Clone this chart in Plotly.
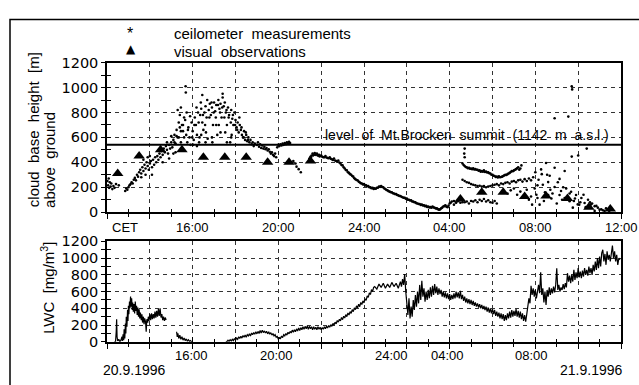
import plotly.graph_objects as go

# ---------------- data (hours: 12 = 12:00 on 20.9.1996, 36 = 12:00 on 21.9.1996) ----------------
level_m = 540  # level of Mt.Brocken summit above ground

# ceilometer: rising part
ceil_t_a = [12.02, 12.05, 12.08, 12.10, 12.13, 12.17, 12.20, 12.25, 12.30, 12.35, 12.42, 12.55,
            12.85, 12.90, 12.95, 13.00, 13.05, 13.10, 13.15, 13.20, 13.25, 13.30, 13.35, 13.40,
            13.45, 13.50, 13.55, 13.60, 13.65, 13.70, 13.75, 13.80, 13.85, 13.90, 13.95, 14.00,
            14.05, 14.10, 14.15, 14.20, 14.25, 14.30, 13.70, 13.90, 14.10, 13.80, 13.60, 14.00]
ceil_h_a = [250, 215, 270, 195, 240, 205, 230, 185, 210, 195, 225, 215,
            170, 190, 180, 200, 215, 225, 240, 230, 260, 275, 255, 300,
            285, 320, 340, 310, 360, 330, 380, 350, 400, 370, 340, 390,
            410, 360, 420, 380, 440, 400, 420, 440, 300, 300, 280, 450]
ceil_t_b = [14.35, 14.40, 14.45, 14.50, 14.55, 14.60, 14.65, 14.70, 14.75, 14.80,
            14.85, 14.90, 14.95, 15.00, 15.05, 15.10, 15.15, 15.20, 15.25, 15.30,
            15.35, 15.40, 15.45, 15.50, 15.55, 15.60, 15.30, 15.40, 15.20, 15.10,
            14.90, 15.45, 15.60, 15.67, 15.68, 14.60, 14.80, 15.00]
ceil_h_b = [450, 420, 470, 440, 490, 460, 510, 480, 530, 500,
            470, 540, 510, 560, 520, 580, 620, 550, 660, 600,
            720, 780, 840, 700, 650, 760, 820, 680, 480, 470,
            430, 560, 600, 1010, 960, 400, 560, 610]
# ceilometer: afternoon maximum
ceil_t_c = [15.65, 15.70, 15.75, 15.80, 15.85, 15.90, 15.95, 16.00, 16.05, 16.10,
            16.15, 16.20, 16.25, 16.30, 16.35, 16.40, 16.45, 16.50, 16.55, 16.60,
            16.65, 16.70, 16.75, 16.80, 16.85, 16.90, 16.95, 17.00, 17.05, 17.10,
            17.15, 17.20, 17.25, 17.30, 17.35, 17.40, 17.45, 17.50, 17.55, 17.60,
            17.65, 17.70, 17.75, 17.80, 17.85, 17.90, 17.95, 18.00, 18.05, 18.10,
            18.15, 18.20, 18.25, 18.30, 18.35, 18.40, 18.45, 18.50, 18.55, 18.60,
            18.65, 18.70, 18.75, 18.80, 18.85, 18.90,
            16.20, 16.60, 16.90, 17.30, 17.60, 16.40, 17.10, 17.80, 16.45, 17.40]
ceil_h_c = [740, 620, 560, 680, 600, 540, 720, 650, 580, 760,
            700, 620, 800, 560, 780, 830, 720, 660, 800, 850,
            760, 590, 820, 870, 780, 840, 700, 880, 810, 860,
            620, 900, 830, 870, 760, 920, 850, 880, 800, 700,
            840, 780, 560, 820, 750, 700, 800, 740, 680, 720,
            640, 700, 660, 620, 600, 650, 580, 620, 570, 600,
            560, 580, 545, 560, 530, 550,
            530, 560, 600, 640, 560, 620, 700, 600, 940, 950]
ceil_t_c2 = [15.72, 15.78, 15.88, 15.98, 16.08, 16.18, 16.28, 16.38, 16.48, 16.58,
             16.68, 16.78, 16.88, 16.98, 17.08, 17.18, 17.28, 17.38, 17.48, 17.58,
             17.68, 17.78, 17.88, 17.98, 18.08, 18.18, 18.28, 18.38, 18.48, 18.58,
             15.15, 15.25, 15.35, 15.45, 15.55,
             16.02, 16.32, 16.62, 16.92, 17.22, 17.52, 17.82]
ceil_h_c2 = [800, 660, 770, 600, 700, 840, 720, 880, 780, 700,
             900, 760, 880, 800, 760, 860, 800, 840, 760, 820,
             760, 720, 780, 700, 660, 760, 680, 600, 640, 580,
             560, 610, 600, 650, 700,
             540, 600, 640, 560, 700, 640, 620]
# ceilometer: evening
ceil_t_d = [19.00, 19.05, 19.10, 19.15, 19.20, 19.25, 19.30, 19.35, 19.40, 19.45,
            19.50, 19.55, 19.60, 19.65, 19.70, 19.75, 19.80, 19.85, 19.90, 19.95,
            20.00, 20.05, 20.10, 20.15, 20.20, 20.25, 20.30, 20.35, 20.40, 20.45,
            20.50, 20.55, 20.70, 20.80, 20.85, 20.95, 21.05]
ceil_h_d = [540, 560, 525, 545, 515, 535, 510, 525, 505, 515,
            495, 505, 485, 470, 480, 460, 450, 470, 440, 520,
            540, 530, 545, 535, 550, 540, 555, 545, 560, 550,
            565, 555, 410, 390, 365, 345, 320]
# ceilometer: night descent
ceil_t_e = [21.45, 21.50, 21.55, 21.60, 21.65, 21.70, 21.75, 21.80, 21.85, 21.90,
            21.95, 22.00, 22.10, 22.20, 22.30, 22.40, 22.50, 22.60, 22.70, 22.80,
            22.90, 23.00, 23.10, 23.20, 23.30, 23.40, 23.50, 23.60, 23.70, 23.80,
            23.90, 24.00, 24.10, 24.20, 24.30, 24.40, 24.50, 24.60, 24.70, 24.80,
            24.90, 25.00, 25.10, 25.20, 25.30, 25.40, 25.50, 25.60, 25.70, 25.80,
            25.90, 26.00, 26.10, 26.20, 26.30, 26.40, 26.50, 26.60, 26.70, 26.80,
            26.90, 27.00, 27.10, 27.20, 27.30, 27.40, 27.50, 27.60, 27.70, 27.80,
            27.90, 28.00, 28.10, 28.20, 28.30, 28.40, 28.50, 28.60]
ceil_h_e = [430, 445, 455, 470, 460, 475, 465, 470, 455, 460,
            450, 455, 440, 450, 435, 440, 425, 430, 410, 415,
            390, 375, 350, 335, 315, 300, 285, 265, 255, 240,
            230, 225, 215, 210, 200, 195, 190, 195, 205, 210,
            200, 185, 175, 165, 160, 150, 145, 135, 130, 120,
            115, 110, 100, 95, 85, 80, 70, 65, 60, 55,
            50, 45, 40, 45, 35, 30, 20, 30, 45, 55,
            40, 70, 85, 90, 75, 90, 100, 80]
ceil_t_e2 = [21.52, 21.62, 21.72, 21.82, 21.92, 22.05, 22.15, 22.25, 22.35, 22.45,
             22.55, 22.65, 22.75, 22.85, 22.95, 23.05, 23.15, 23.25, 23.35, 23.45,
             23.55, 23.65, 23.75, 23.85, 23.95, 24.05, 24.15, 24.25, 24.35, 24.45,
             24.55, 24.65, 24.75, 24.85, 24.95, 25.05, 25.15, 25.25, 25.35, 25.45,
             25.55, 25.65, 25.75, 25.85, 25.95, 26.05, 26.15, 26.25, 26.35, 26.45,
             26.55, 26.65, 26.75, 26.85, 26.95, 27.05, 27.15, 27.25, 27.35, 27.45,
             27.55, 27.65, 27.75, 27.85, 27.95, 28.05]
ceil_h_e2 = [440, 455, 460, 458, 448, 445, 440, 438, 432, 428,
             418, 415, 405, 398, 378, 360, 338, 320, 305, 290,
             272, 258, 245, 232, 222, 215, 208, 200, 192, 186,
             188, 196, 203, 202, 190, 178, 168, 160, 152, 145,
             138, 130, 123, 115, 108, 100, 93, 86, 79, 72,
             65, 58, 54, 48, 42, 38, 36, 38, 30, 24,
             22, 36, 48, 44, 52, 76]
# ceilometer: morning layers
ceil_t_up = [28.60, 28.70, 28.80, 28.90, 29.00, 29.10, 29.20, 29.30, 29.40, 29.50,
             29.60, 29.70, 29.80, 29.90, 30.00, 30.10, 30.20, 30.30, 30.40, 30.50,
             30.60, 30.70, 30.80, 30.90, 31.00, 31.10, 31.20, 31.30, 31.35, 28.70, 28.70, 28.68,
             28.65, 28.75, 28.85, 28.95, 29.05, 29.15, 29.25, 29.35, 29.45, 29.55,
             29.65, 29.75, 29.85, 29.95, 30.05, 30.15, 30.25, 30.35, 30.45, 30.55,
             30.65, 30.75, 30.85, 30.95, 31.05, 31.15, 31.25]
ceil_h_up = [390, 370, 360, 355, 350, 352, 345, 340, 335, 330,
             335, 325, 320, 310, 300, 290, 285, 288, 282, 290,
             300, 305, 315, 330, 335, 345, 360, 350, 375, 510, 440, 470,
             378, 362, 352, 348, 345, 342, 340, 332, 325, 325,
             322, 318, 312, 300, 292, 282, 278, 280, 285, 295,
             298, 310, 322, 328, 340, 352, 340]
ceil_t_mid = [28.60, 28.70, 28.80, 28.90, 29.00, 29.10, 29.20, 29.30, 29.40, 29.50,
              29.60, 29.70, 29.80, 29.90, 30.00, 30.10, 30.20, 30.30, 30.40, 30.50,
              30.60, 30.70, 30.80, 30.90, 31.00, 31.10, 31.20, 31.30, 31.40, 31.50,
              31.60, 31.70, 31.80]
ceil_h_mid = [260, 250, 240, 235, 225, 220, 215, 210, 212, 205,
              210, 200, 205, 210, 215, 220, 225, 215, 230, 225,
              235, 240, 230, 245, 250, 240, 255, 260, 245, 265,
              250, 270, 255]
ceil_t_low = [28.20, 28.30, 28.40, 28.50, 28.60, 28.70, 28.80, 28.90, 29.00, 29.10,
              29.20, 29.30, 29.40, 29.50, 29.60, 29.70, 29.80, 29.90, 30.00, 30.10, 30.20]
ceil_h_low = [60, 80, 90, 75, 95, 80, 85, 70, 90, 85,
              95, 80, 100, 90, 105, 85, 95, 80, 75, 90, 70]
ceil_t_g = [30.70, 30.85, 31.00, 31.15, 31.30, 31.45, 31.60, 31.80, 31.97, 32.10,
            32.10, 32.27, 32.30, 32.50, 32.60, 32.60, 32.67, 32.90, 32.90, 33.13,
            33.13, 33.37, 33.44, 33.67, 33.90, 34.15, 34.30, 34.46, 34.60, 34.77,
            34.92, 35.08, 35.23, 33.37, 33.60, 33.98, 34.46, 34.77, 33.75, 33.70,
            33.72, 32.90, 33.54, 33.70, 34.00, 34.40, 32.20, 32.40, 32.80, 33.00,
            33.25, 33.50, 33.80, 34.05, 34.25, 34.55, 34.85, 35.00, 35.30, 35.45,
            31.90, 32.00, 32.35, 32.45, 32.70, 33.05, 33.30, 31.70, 32.15, 32.55,
            32.75, 33.20, 33.60, 33.85, 34.10, 34.35, 34.65, 35.15, 31.85, 32.05]
ceil_h_g = [150, 175, 190, 140, 165, 120, 180, 125, 190, 215,
            113, 343, 305, 395, 241, 138, 292, 356, 202, 267,
            138, 330, 190, 164, 138, 113, 74, 100, 62, 48,
            36, 23, 10, 113, 87, 62, 36, 10, 36, 1010,
            985, 754, 767, 446, 455, 510, 60, 90, 150, 70,
            100, 120, 90, 60, 140, 80, 50, 20, 30, 10,
            280, 320, 220, 160, 180, 240, 200, 100, 260, 300,
            110, 170, 150, 110, 80, 40, 70, 15, 60, 140]

# visual observations
vis_t = [12.5, 13.5, 14.5, 15.5, 16.5, 17.5, 18.5, 19.5, 20.5, 21.5,
         28.5, 29.5, 30.5, 31.5, 32.5, 33.5, 34.5, 35.5]
vis_h = [310, 450, 500, 500, 440, 440, 440, 400, 400, 410,
         105, 160, 160, 125, 130, 110, 40, 25]

# liquid water content [mg/m3]
lwc_t1 = [12.35, 12.40, 12.43, 12.45, 12.47, 12.50, 12.55, 12.60, 12.65, 12.70,
          12.72, 12.75, 12.78, 12.80, 12.83, 12.86, 12.88, 12.90, 12.93, 12.96,
          12.98, 13.00, 13.02, 13.05, 13.07, 13.10, 13.12, 13.15, 13.18, 13.20,
          13.23, 13.26, 13.29, 13.32, 13.35, 13.38, 13.41, 13.44, 13.47, 13.50,
          13.53, 13.56, 13.60, 13.63, 13.66, 13.70, 13.73, 13.76, 13.80, 13.83,
          13.86, 13.90, 13.93, 13.96, 14.00, 14.04, 14.08, 14.12, 14.16, 14.20,
          14.24, 14.28, 14.32, 14.36, 14.40, 14.44, 14.48, 14.52, 14.56, 14.60,
          14.64, 14.68, 14.72, 14.76]
lwc_v1 = [0, 5, 120, 270, 60, 10, 30, 0, 20, 60,
          10, 90, 20, 150, 40, 220, 100, 300, 180, 380,
          250, 430, 330, 480, 400, 540, 420, 520, 380, 470,
          360, 450, 340, 480, 370, 430, 320, 410, 300, 390,
          280, 350, 260, 330, 230, 300, 210, 280, 240, 120,
          270, 230, 300, 250, 330, 260, 340, 270, 330, 280,
          360, 290, 370, 300, 390, 310, 400, 290, 330, 260,
          300, 250, 290, 260]
lwc_t2 = [15.25, 15.28, 15.31, 15.35, 15.40, 15.45, 15.50, 15.55, 15.60, 15.65,
          15.70, 15.75, 15.80, 15.85, 15.90, 15.95, 16.00]
lwc_v2 = [120, 60, 100, 40, 80, 30, 60, 20, 45, 15,
          35, 10, 25, 5, 15, 0, 5]
lwc_t3 = [17.55, 17.60, 17.65, 17.70, 17.75, 17.80, 17.85, 17.90, 17.95, 18.00,
          18.05, 18.10, 18.15, 18.20, 18.25, 18.30, 18.35, 18.40, 18.45, 18.50,
          18.55, 18.60, 18.65, 18.70, 18.75, 18.80, 18.85, 18.90, 18.95, 19.00,
          19.05, 19.10, 19.15, 19.20, 19.25, 19.30, 19.35, 19.40, 19.45, 19.50,
          19.55, 19.60, 19.65, 19.70, 19.75, 19.80, 19.85, 19.90, 19.95, 20.00,
          20.05, 20.10, 20.15, 20.20, 20.25, 20.30, 20.35, 20.40, 20.45, 20.50,
          20.55, 20.60, 20.65, 20.70, 20.75, 20.80, 20.85, 20.90, 20.95, 21.00,
          21.05, 21.10, 21.15, 21.20, 21.25, 21.30, 21.35, 21.40, 21.45, 21.50,
          21.55, 21.60, 21.65, 21.70, 21.75, 21.80, 21.85, 21.90, 21.95, 22.00,
          22.05, 22.10, 22.15, 22.20, 22.25, 22.30, 22.35, 22.40, 22.45, 22.50,
          22.55, 22.60, 22.65, 22.70, 22.75, 22.80, 22.85, 22.90, 22.95, 23.00,
          23.05, 23.10, 23.15, 23.20, 23.25, 23.30, 23.35, 23.40, 23.45, 23.50,
          23.55, 23.60, 23.65, 23.70, 23.75, 23.80, 23.85, 23.90, 23.95, 24.00,
          24.05, 24.10, 24.15, 24.20, 24.25, 24.30, 24.35, 24.40, 24.45]
lwc_v3 = [5, 0, 20, 5, 25, 10, 30, 15, 40, 20,
          45, 30, 60, 40, 65, 45, 75, 55, 80, 55,
          85, 70, 95, 70, 105, 85, 110, 90, 120, 95,
          125, 100, 135, 105, 140, 110, 130, 105, 125, 95,
          120, 90, 110, 80, 100, 70, 85, 55, 65, 30,
          50, 40, 70, 50, 85, 70, 100, 80, 115, 95,
          125, 105, 140, 115, 145, 120, 155, 130, 165, 135,
          170, 145, 180, 150, 185, 155, 190, 150, 185, 155,
          180, 145, 180, 150, 175, 145, 180, 150, 175, 145,
          170, 150, 180, 155, 185, 165, 195, 175, 205, 185,
          220, 200, 235, 215, 255, 235, 270, 250, 290, 265,
          305, 285, 325, 300, 345, 320, 360, 340, 385, 360,
          405, 385, 430, 405, 450, 420, 470, 445, 490, 465,
          515, 495, 550, 530, 585, 565, 625, 600, 650]
lwc_t4 = [24.5, 24.6, 24.7, 24.8, 24.9, 25.0, 25.1, 25.2, 25.3, 25.4,
          25.5, 25.6, 25.7, 25.75, 25.8, 25.85, 25.9, 25.95, 26.0, 26.05,
          26.1, 26.15, 26.2, 26.25, 26.3, 26.35, 26.4, 26.45, 26.5, 26.55,
          26.6, 26.65, 26.7, 26.75, 26.8, 26.85, 26.9, 26.95, 27.0, 27.05,
          27.1, 27.15, 27.2, 27.25, 27.3, 27.35, 27.4, 27.45, 27.5, 27.55,
          27.6, 27.65, 27.7, 27.75, 27.8, 27.85, 27.9, 27.95, 28.0, 28.05,
          28.1, 28.15, 28.2, 28.25, 28.3, 28.35, 28.4, 28.45, 28.5, 28.55,
          28.6, 28.65, 28.7, 28.75, 28.8, 28.85, 28.9, 28.95, 29.0, 29.05,
          29.1, 29.15, 29.2, 29.25, 29.3, 29.35, 29.4, 29.45, 29.5, 29.55,
          29.6, 29.65, 29.7, 29.75, 29.8, 29.85, 29.9, 29.95, 30.0, 30.05]
lwc_v4 = [660, 630, 690, 650, 700, 640, 690, 650, 710, 660,
          700, 640, 720, 660, 750, 680, 810, 600, 420, 320,
          520, 280, 420, 300, 500, 380, 560, 420, 600, 460,
          680, 500, 730, 540, 640, 480, 600, 500, 620, 520,
          650, 540, 670, 560, 690, 580, 660, 560, 640, 570,
          620, 540, 600, 530, 590, 520, 580, 510, 570, 500,
          560, 510, 580, 520, 600, 530, 590, 520, 610, 510,
          560, 490, 540, 470, 520, 460, 510, 450, 500, 440,
          490, 430, 470, 420, 460, 410, 450, 400, 440, 390,
          430, 380, 420, 360, 410, 350, 400, 340, 390, 330]
lwc_t5 = [30.1, 30.15, 30.2, 30.25, 30.3, 30.35, 30.4, 30.45, 30.5, 30.55,
          30.6, 30.65, 30.7, 30.75, 30.8, 30.85, 30.9, 30.95, 31.0, 31.05,
          31.1, 31.15, 31.2, 31.25, 31.3, 31.35, 31.4, 31.45, 31.5, 31.55,
          31.6, 31.65, 31.7, 31.75, 31.8, 31.85, 31.9, 31.95, 32.0, 32.05,
          32.1, 32.15, 32.2, 32.25, 32.3, 32.35, 32.4, 32.45, 32.5, 32.55,
          32.6, 32.65, 32.7, 32.75, 32.8, 32.85, 32.9, 32.95, 33.0, 33.05,
          33.1, 33.15, 33.2, 33.25, 33.3, 33.35, 33.4, 33.45, 33.5, 33.55,
          33.6, 33.65, 33.7, 33.75, 33.8, 33.85, 33.9, 33.95, 34.0, 34.05,
          34.1, 34.15, 34.2, 34.25, 34.3, 34.35, 34.4, 34.45, 34.5, 34.55,
          34.6, 34.65, 34.7, 34.75, 34.8, 34.85, 34.9, 34.95, 35.0, 35.05,
          35.1, 35.15, 35.2, 35.25, 35.3, 35.35, 35.4, 35.45, 35.5, 35.55,
          35.6, 35.65, 35.7, 35.75, 35.8, 35.85, 35.9, 35.95]
lwc_v5 = [380, 310, 360, 300, 350, 280, 340, 270, 330, 250,
          320, 260, 340, 280, 360, 290, 380, 300, 370, 310,
          390, 300, 370, 290, 360, 270, 340, 250, 320, 240,
          330, 420, 520, 460, 670, 560, 640, 540, 620, 520,
          600, 680, 580, 830, 560, 640, 470, 600, 440, 620,
          540, 650, 560, 640, 580, 660, 590, 680, 880, 620,
          680, 600, 650, 620, 690, 630, 700, 650, 820, 720,
          790, 700, 800, 720, 860, 740, 830, 760, 880, 770,
          840, 760, 850, 780, 880, 800, 860, 790, 900, 820,
          880, 800, 920, 840, 960, 860, 1000, 880, 1020, 900,
          1060, 1100, 960, 1050, 920, 1080, 980, 1040, 960, 1100,
          1150, 1000, 1080, 960, 1040, 920, 1000, 980]

# axis labels
top_tick_hours = [12.84, 16, 20, 24, 28, 32, 36]
top_tick_text = ["CET", "16:00", "20:00", "24:00", "04:00", "08:00", "12:00"]
bottom_tick_hours = [15.96, 19.9, 25.3, 27.9, 31.84]
bottom_tick_text = ["16:00", "20:00", "24:00", "04:00", "08:00"]
date_hours = [13.24, 34.6]
date_text = ["20.9.1996", "21.9.1996"]

# ---------------- figure ----------------
W, H = 639, 385
def px(x):
    return x / W
def py(y):
    return 1 - y / H

ceil_t = (ceil_t_a + ceil_t_b + ceil_t_c + ceil_t_c2 + ceil_t_d + ceil_t_e + ceil_t_e2 +
          ceil_t_up + ceil_t_mid + ceil_t_low + ceil_t_g)
ceil_h = (ceil_h_a + ceil_h_b + ceil_h_c + ceil_h_c2 + ceil_h_d + ceil_h_e + ceil_h_e2 +
          ceil_h_up + ceil_h_mid + ceil_h_low + ceil_h_g)
lwc_t = lwc_t1 + [None] + lwc_t2 + [None] + lwc_t3 + lwc_t4 + lwc_t5
lwc_v = lwc_v1 + [None] + lwc_v2 + [None] + lwc_v3 + lwc_v4 + lwc_v5

FONT = "Liberation Sans"
fig = go.Figure()
fig.add_trace(go.Scatter(x=ceil_t, y=ceil_h, mode="markers",
                         marker=dict(size=2.6, color="black"), xaxis="x", yaxis="y",
                         hoverinfo="skip"))
fig.add_trace(go.Scatter(x=vis_t, y=vis_h, mode="markers",
                         marker=dict(symbol="triangle-up", size=10, color="black"),
                         xaxis="x", yaxis="y"))
fig.add_trace(go.Scatter(x=lwc_t, y=lwc_v, mode="lines", connectgaps=False,
                         line=dict(color="black", width=1.2), xaxis="x2", yaxis="y2"))
# empty traces that carry the inner halves of the crossing tick marks
fig.add_trace(go.Scatter(x=[None], y=[None], xaxis="x3", yaxis="y3", hoverinfo="skip"))
fig.add_trace(go.Scatter(x=[None], y=[None], xaxis="x4", yaxis="y4", hoverinfo="skip"))

xdom = [px(107), px(621)]
ydom_top = [py(213), py(57)]
ydom_bot = [py(348.3), py(243.5)]

def xmain(anchor):
    return dict(domain=xdom, range=[12, 36], anchor=anchor, showline=True, linecolor="black",
                linewidth=1.5, mirror=True, tickmode="linear", tick0=12, dtick=2,
                ticks="outside", ticklen=5, tickwidth=1.2, tickcolor="black",
                showticklabels=False, showgrid=True, gridcolor="#333", gridwidth=1,
                griddash="4px,4px", zeroline=False,
                minor=dict(tickmode="linear", tick0=12, dtick=1, ticks="outside", ticklen=3,
                           tickwidth=1.2, tickcolor="black", showgrid=False))

def xover(over, anchor):
    return dict(overlaying=over, anchor=anchor, range=[12, 36], showline=False,
                tickmode="linear", tick0=12, dtick=2, ticks="inside", ticklen=5,
                tickwidth=1.2, tickcolor="black", showticklabels=False, showgrid=False,
                zeroline=False,
                minor=dict(tickmode="linear", tick0=12, dtick=1, ticks="inside", ticklen=3,
                           tickwidth=1.2, tickcolor="black", showgrid=False))

def ymain(dom, anchor):
    return dict(domain=dom, range=[0, 1200], anchor=anchor, showline=True, linecolor="black",
                linewidth=1.5, mirror=True, tickmode="linear", tick0=0, dtick=200,
                ticks="outside", ticklen=4, tickwidth=1.2, tickcolor="black",
                tickfont=dict(family="DejaVu Sans", size=14.5, color="black"),
                showgrid=True, gridcolor="#333", gridwidth=1, griddash="4px,4px",
                zeroline=False,
                minor=dict(tickmode="linear", tick0=0, dtick=100, ticks="outside", ticklen=4,
                           tickwidth=1.2, tickcolor="black", showgrid=False))

def yover(over, anchor):
    return dict(overlaying=over, anchor=anchor, range=[0, 1200], showline=False,
                tickmode="linear", tick0=0, dtick=200, ticks="inside", ticklen=4,
                tickwidth=1.2, tickcolor="black", showticklabels=False, showgrid=False,
                zeroline=False,
                minor=dict(tickmode="linear", tick0=0, dtick=100, ticks="inside", ticklen=4,
                           tickwidth=1.2, tickcolor="black", showgrid=False))

annotations = []
def ann(text, x, y, size, xref="paper", angle=0, xanchor="center", family=FONT):
    annotations.append(dict(text=text, x=x, y=y, xref=xref, yref="paper", showarrow=False,
                            xanchor=xanchor, yanchor="middle", textangle=angle,
                            font=dict(family=family, size=size, color="black")))

sp = " \u00a0"
# y axis titles
ann("cloud" + sp + "base" + sp + "height" + sp + "[m]", px(33), py(127.5), 15, angle=-90)
ann("above" + sp + "ground", px(50), py(158.5), 15, angle=-90)
ann("LWC" + sp + "[mg/m<sup>3</sup>]", px(48), py(292), 15, angle=-90)
# legend
ann("*", px(130), py(27), 16)
ann("\u25b2", px(131), py(43), 12, family="DejaVu Sans")
ann("ceilometer" + sp + "measurements", px(172), py(27), 15, xanchor="left")
ann("visual" + sp + "observations", px(172), py(45), 15, xanchor="left")
# summit level label
ann(sp.join(["level", "of", "Mt.Brocken", "summit", "(1142", "m", "a.s.l.)"]),
    px(467), py(132), 14)
# time labels
for h, t in zip(top_tick_hours, top_tick_text):
    ann(t, h, py(229), 13, xref="x")
for h, t in zip(bottom_tick_hours, bottom_tick_text):
    ann(t, h, py(363), 13, xref="x2")
for h, t in zip(date_hours, date_text):
    ann(t, h, py(378), 14, xref="x2")

shapes = [
    dict(type="line", xref="x domain", yref="y", x0=0, x1=1, y0=level_m, y1=level_m,
         line=dict(color="black", width=2)),
    dict(type="rect", xref="paper", yref="paper", x0=px(10), x1=1.05, y0=-0.05, y1=py(12),
         line=dict(color="black", width=1.5), layer="above"),
]

fig.update_layout(
    width=W, height=H, autosize=False, margin=dict(l=0, r=0, t=0, b=0, pad=0),
    paper_bgcolor="white", plot_bgcolor="white", showlegend=False,
    font=dict(family=FONT, color="black"),
    xaxis=xmain("y"), yaxis=ymain(ydom_top, "x"),
    xaxis2=xmain("y2"), yaxis2=ymain(ydom_bot, "x2"),
    xaxis3=xover("x", "y"), yaxis3=yover("y", "x"),
    xaxis4=xover("x2", "y2"), yaxis4=yover("y2", "x2"),
    annotations=annotations, shapes=shapes,
)

fig.write_html("out.html", config={"displayModeBar": False},
               post_script="document.body.style.margin='0px';"
                           "document.body.style.padding='0px';"
                           "document.body.style.overflow='hidden';")
